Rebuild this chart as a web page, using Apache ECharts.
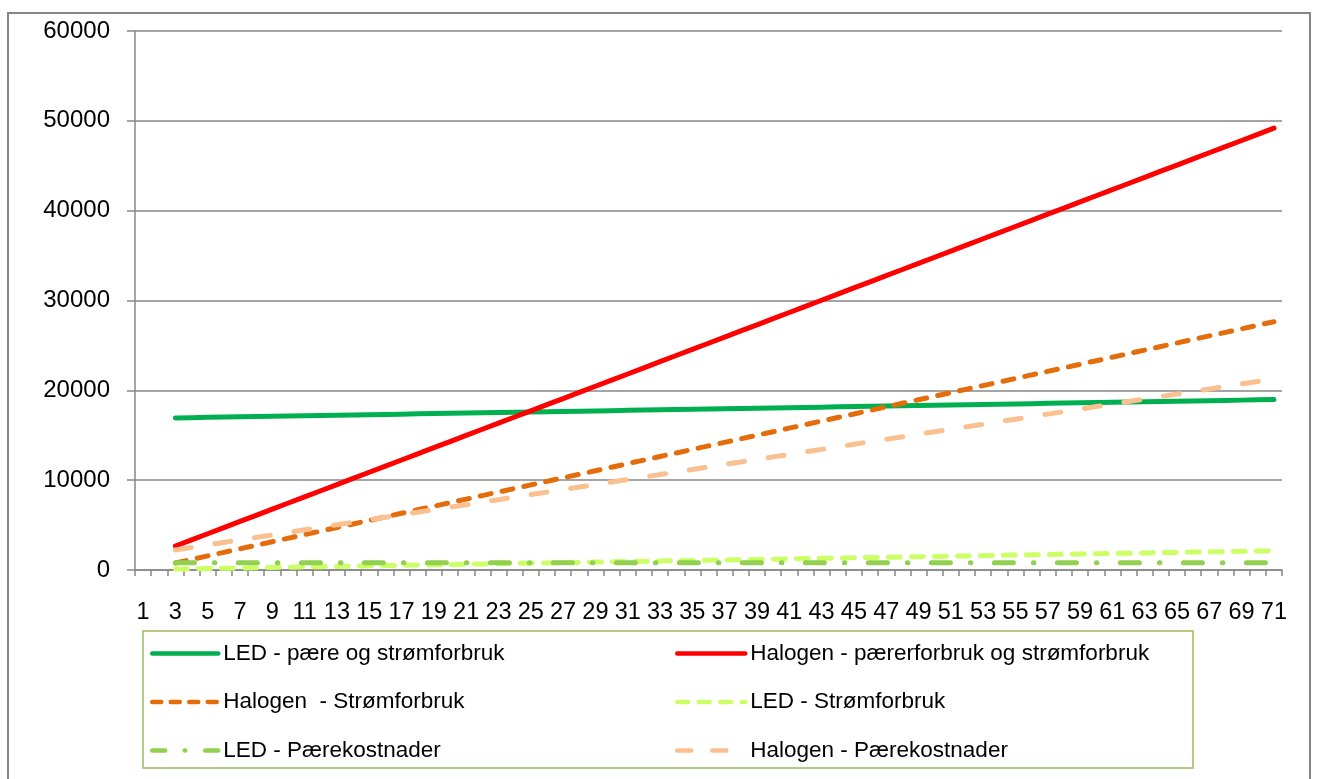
<!DOCTYPE html>
<html>
<head>
<meta charset="utf-8">
<script src="https://cdn.jsdelivr.net/npm/echarts@6/dist/echarts.min.js"></script>
<style>
html,body{margin:0;padding:0;background:#fff;}
#chart{width:1317px;height:779px;}
</style>
</head>
<body>
<div id="chart"></div>
<script>
// Categories (years) 1..71
const categories = ["1","2","3","4","5","6","7","8","9","10","11","12","13","14","15","16","17","18","19","20","21","22","23","24","25","26","27","28","29","30","31","32","33","34","35","36","37","38","39","40","41","42","43","44","45","46","47","48","49","50","51","52","53","54","55","56","57","58","59","60","61","62","63","64","65","66","67","68","69","70","71"];

const yTicks = { min: 0, max: 60000, interval: 10000 };

const seriesNames = [
  "LED - pære og strømforbruk",
  "Halogen - pærerforbruk og strømforbruk",
  "Halogen  - Strømforbruk",
  "LED - Strømforbruk",
  "LED - Pærekostnader",
  "Halogen - Pærekostnader"
];

// values for years 1..71 (data begins at year 3)
const ledTotal = [null,null,16930,16960,16990,17020,17050,17080,17110,17140,17170,17200,17230,17260,17290,17320,17350,17380,17410,17440,17470,17500,17530,17560,17590,17620,17650,17680,17710,17740,17770,17800,17830,17860,17890,17920,17950,17980,18010,18040,18070,18100,18130,18160,18190,18220,18250,18280,18310,18340,18370,18400,18430,18460,18490,18520,18550,18580,18610,18640,18670,18700,18730,18760,18790,18820,18850,18880,18910,18940,18970];

const halogenTotal = [null,null,2670,3354,4038,4722,5406,6090,6774,7458,8142,8826,9510,10194,10878,11562,12246,12930,13614,14298,14982,15666,16350,17034,17718,18402,19086,19770,20454,21138,21822,22506,23190,23874,24558,25242,25926,26610,27294,27978,28662,29346,30030,30714,31398,32082,32766,33450,34134,34818,35502,36186,36870,37554,38238,38922,39606,40290,40974,41658,42342,43026,43710,44394,45078,45762,46446,47130,47814,48498,49182];

const halogenPower = [null,null,780,1175,1570,1965,2360,2755,3150,3545,3940,4335,4730,5125,5520,5915,6310,6705,7100,7495,7890,8285,8680,9075,9470,9865,10260,10655,11050,11445,11840,12235,12630,13025,13420,13815,14210,14605,15000,15395,15790,16185,16580,16975,17370,17765,18160,18555,18950,19345,19740,20135,20530,20925,21320,21715,22110,22505,22900,23295,23690,24085,24480,24875,25270,25665,26060,26455,26850,27245,27640];

const ledPower = [null,null,100,130,160,190,220,250,280,310,340,370,400,430,460,490,520,550,580,610,640,670,700,730,760,790,820,850,880,910,940,970,1000,1030,1060,1090,1120,1150,1180,1210,1240,1270,1300,1330,1360,1390,1420,1450,1480,1510,1540,1570,1600,1630,1660,1690,1720,1750,1780,1810,1840,1870,1900,1930,1960,1990,2020,2050,2080,2110,2140];

const ledBulb = [null,null,800,800,800,800,800,800,800,800,800,800,800,800,800,800,800,800,800,800,800,800,800,800,800,800,800,800,800,800,800,800,800,800,800,800,800,800,800,800,800,800,800,800,800,800,800,800,800,800,800,800,800,800,800,800,800,800,800,800,800,800,800,800,800,800,800,800,800,800,800];

const halogenBulb = [null,null,2230,2510,2790,3070,3350,3630,3910,4190,4470,4750,5030,5310,5590,5870,6150,6430,6710,6990,7270,7550,7830,8110,8390,8670,8950,9230,9510,9790,10070,10350,10630,10910,11190,11470,11750,12030,12310,12590,12870,13150,13430,13710,13990,14270,14550,14830,15110,15390,15670,15950,16230,16510,16790,17070,17350,17630,17910,18190,18470,18750,19030,19310,19590,19870,20150,20430,20710,20990,21270];

const FONT = '"Liberation Sans", Arial, sans-serif';
const AXIS = '#878787';
const LW = 5;

function mk(name, data, color, type) {
  return {
    name: name, type: 'line', data: data, symbol: 'none', showSymbol: false, smooth: false,
    connectNulls: false,
    lineStyle: { color: color, width: LW, type: type, cap: 'round', join: 'round' },
    itemStyle: { color: color },
    emphasis: { disabled: true }
  };
}

const chart = echarts.init(document.getElementById('chart'), null, { renderer: 'canvas' });

const legendCommon = {
  orient: 'vertical', padding: 0, itemHeight: 22, itemGap: 25.5,
  textStyle: { fontFamily: FONT, fontSize: 22.5, color: '#000', lineHeight: 22 },
  selectedMode: false,
  itemStyle: { opacity: 0, borderWidth: 0 },
  lineStyle: { width: 4.5, cap: 'round' }
};

chart.setOption({
  animation: false,
  backgroundColor: '#fff',
  grid: { left: 135, right: 35, top: 31, bottom: 209, containLabel: false },
  graphic: [
    { type: 'rect', shape: { x: 8, y: 13, width: 1302, height: 790 },
      style: { fill: 'none', stroke: '#868686', lineWidth: 2 }, silent: true, z: -10 },
    { type: 'rect', shape: { x: 143, y: 631, width: 1050, height: 137 },
      style: { fill: 'none', stroke: '#9BBB59', lineWidth: 1.5 }, silent: true, z: -5 }
  ],
  legend: [
    Object.assign({}, legendCommon, {
      left: 150, top: 642, itemWidth: 66,
      data: [
        { name: seriesNames[0] },
        { name: seriesNames[2], lineStyle: { type: [9, 9.5] } },
        { name: seriesNames[4], lineStyle: { type: [13, 19.5, 0.5, 20] } }
      ]
    }),
    Object.assign({}, legendCommon, {
      left: 675, top: 642, itemWidth: 68,
      data: [
        { name: seriesNames[1] },
        { name: seriesNames[3], lineStyle: { type: [11, 10.5] } },
        { name: seriesNames[5], lineStyle: { type: [14, 21] } }
      ]
    })
  ],
  xAxis: {
    type: 'category', data: categories, boundaryGap: true,
    axisLine: { show: true, lineStyle: { color: AXIS, width: 1.5 } },
    axisTick: { show: true, interval: 0, length: 6, lineStyle: { color: AXIS, width: 1.5 } },
    axisLabel: { interval: 1, margin: 31, fontFamily: FONT, fontSize: 23.5, color: '#000' },
    splitLine: { show: false }
  },
  yAxis: {
    type: 'value', min: yTicks.min, max: yTicks.max, interval: yTicks.interval,
    axisLine: { show: true, lineStyle: { color: AXIS, width: 1.5 } },
    axisTick: { show: true, length: 8, lineStyle: { color: AXIS, width: 1.5 } },
    axisLabel: { margin: 25, fontFamily: FONT, fontSize: 24, color: '#000',
      formatter: function (v) { return String(v); } },
    splitLine: { show: true, lineStyle: { color: AXIS, width: 1.5 } }
  },
  series: [
    mk(seriesNames[0], ledTotal, '#00B050', 'solid'),
    mk(seriesNames[1], halogenTotal, '#FF0000', 'solid'),
    mk(seriesNames[2], halogenPower, '#E46C0A', [11, 11.3]),
    mk(seriesNames[3], ledPower, '#CCFF66', [12, 11]),
    mk(seriesNames[4], ledBulb, '#92D050', [19, 20, 0.5, 23.5]),
    mk(seriesNames[5], halogenBulb, '#FAC090', [16, 24])
  ]
});
</script>
</body>
</html>
